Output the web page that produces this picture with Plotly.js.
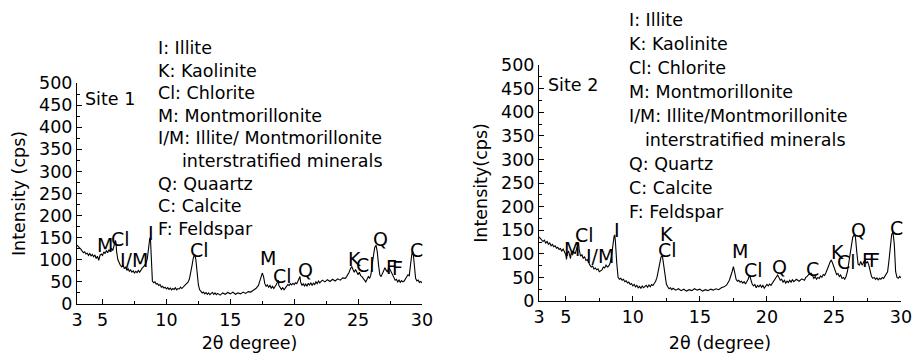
<!DOCTYPE html>
<html>
<head>
<meta charset="utf-8">
<script src="https://cdn.plot.ly/plotly-3.0.1.min.js"></script>
<style>html,body{margin:0;padding:0;background:#fff;}#chart{width:914px;height:353px;}</style>
</head>
<body>
<div id="chart"></div>
<script>
// ---------- data ----------
var site1Angle = [3.0,3.1,3.2,3.3,3.4,3.5,3.6,3.7,3.8,3.9,4.0,4.1,4.2,4.3,4.4,4.5,4.6,4.7,4.8,4.9,5.0,5.1,5.2,5.3,5.4,5.5,5.6,5.7,5.8,5.9,6.0,6.05,6.1,6.2,6.3,6.4,6.5,6.6,6.7,6.8,6.9,7.0,7.1,7.2,7.3,7.4,7.5,7.6,7.7,7.8,7.9,8.0,8.1,8.2,8.3,8.4,8.5,8.6,8.7,8.75,8.8,8.85,8.9,9.0,9.1,9.2,9.3,9.4,9.5,9.6,9.7,9.8,9.9,10.0,10.1,10.2,10.3,10.4,10.5,10.6,10.7,10.8,10.9,11.0,11.1,11.2,11.3,11.4,11.5,11.6,11.7,11.8,11.9,12.0,12.1,12.2,12.3,12.4,12.5,12.6,12.7,12.8,12.9,13.0,13.1,13.2,13.3,13.4,13.5,13.6,13.7,13.8,13.9,14.0,14.2,14.4,14.6,14.8,15.0,15.2,15.4,15.6,15.8,16.0,16.2,16.4,16.6,16.8,17.0,17.2,17.4,17.5,17.6,17.7,17.8,17.9,18.0,18.1,18.2,18.3,18.4,18.5,18.6,18.7,18.75,18.8,18.9,19.0,19.1,19.2,19.3,19.4,19.5,19.6,19.7,19.8,19.9,20.0,20.1,20.2,20.3,20.4,20.45,20.5,20.6,20.7,20.8,20.9,21.0,21.1,21.2,21.3,21.4,21.5,21.6,21.7,21.8,21.9,22.0,22.2,22.4,22.6,22.8,23.0,23.2,23.4,23.6,23.8,24.0,24.1,24.2,24.3,24.4,24.5,24.6,24.7,24.8,24.9,25.0,25.1,25.2,25.3,25.4,25.5,25.6,25.7,25.8,25.9,26.0,26.1,26.2,26.3,26.4,26.5,26.6,26.7,26.8,26.9,27.0,27.1,27.2,27.3,27.4,27.5,27.6,27.7,27.8,27.9,28.0,28.1,28.2,28.3,28.4,28.5,28.6,28.7,28.8,28.9,29.0,29.1,29.2,29.3,29.4,29.5,29.6,29.7,29.8,29.9,30.0];
var site1Intensity = [133,131,127,124,119,116,118,113,115,110,114,109,112,107,111,103,108,99,110,113,110,118,114,121,116,123,119,126,121,134,144,140,118,100,92,87,84,89,80,84,76,80,74,77,72,75,70,74,71,76,72,78,81,84,87,92,102,126,150,147,108,70,52,48,50,45,46,42,44,38,40,36,38,34,37,33,36,32,35,33,37,32,35,34,38,35,38,40,42,46,50,57,69,87,104,113,101,70,43,32,28,25,27,23,26,22,25,21,24,26,22,25,21,24,20,25,22,26,23,27,22,25,23,27,24,28,27,31,35,42,58,70,62,46,40,43,38,42,36,40,35,39,44,50,54,42,36,33,37,32,36,40,44,42,46,43,47,44,48,46,52,60,62,50,42,46,41,45,40,47,43,48,42,47,44,50,46,52,48,54,50,55,51,56,52,57,54,59,58,62,66,72,80,85,78,72,78,70,66,72,64,62,58,54,50,56,62,58,66,90,112,128,133,118,88,66,62,70,74,82,76,72,84,78,70,64,58,54,56,50,54,49,53,50,52,56,60,66,64,92,112,118,90,58,52,54,49,51,48];

var site2Angle = [3.0,3.1,3.2,3.3,3.4,3.5,3.6,3.7,3.8,3.9,4.0,4.1,4.2,4.3,4.4,4.5,4.6,4.7,4.8,4.9,5.0,5.05,5.1,5.2,5.3,5.35,5.4,5.5,5.6,5.7,5.8,5.9,5.95,6.0,6.1,6.2,6.3,6.4,6.5,6.6,6.7,6.8,6.9,7.0,7.1,7.2,7.3,7.4,7.5,7.6,7.7,7.8,7.9,8.0,8.1,8.2,8.3,8.4,8.5,8.6,8.65,8.7,8.8,8.9,9.0,9.1,9.2,9.3,9.4,9.5,9.6,9.7,9.8,9.9,10.0,10.1,10.2,10.3,10.4,10.5,10.6,10.7,10.8,10.9,11.0,11.1,11.2,11.3,11.4,11.5,11.6,11.7,11.8,11.9,12.0,12.1,12.2,12.3,12.4,12.5,12.6,12.7,12.8,12.9,13.0,13.2,13.4,13.6,13.8,14.0,14.2,14.4,14.6,14.8,15.0,15.2,15.4,15.6,15.8,16.0,16.2,16.4,16.6,16.8,17.0,17.2,17.4,17.5,17.6,17.7,17.8,17.9,18.0,18.1,18.2,18.3,18.4,18.5,18.6,18.7,18.8,18.9,19.0,19.1,19.2,19.3,19.4,19.5,19.6,19.7,19.8,19.9,20.0,20.1,20.2,20.3,20.4,20.5,20.6,20.7,20.8,20.9,21.0,21.1,21.2,21.3,21.4,21.5,21.6,21.7,21.8,21.9,22.0,22.2,22.4,22.6,22.8,22.9,23.0,23.1,23.2,23.3,23.4,23.5,23.6,23.7,23.8,23.9,24.0,24.1,24.2,24.3,24.4,24.5,24.6,24.7,24.8,24.9,25.0,25.1,25.2,25.3,25.4,25.5,25.6,25.7,25.8,25.9,26.0,26.1,26.2,26.3,26.4,26.5,26.6,26.7,26.8,26.9,27.0,27.1,27.2,27.3,27.4,27.5,27.6,27.7,27.8,27.9,28.0,28.1,28.2,28.3,28.4,28.5,28.6,28.7,28.8,28.9,29.0,29.1,29.2,29.3,29.4,29.5,29.6,29.7,29.8,29.9,30.0];
var site2Intensity = [136,132,130,126,129,123,126,120,123,117,120,115,117,112,114,109,111,106,110,104,98,88,100,106,96,90,102,98,104,100,110,121,124,108,95,98,90,94,86,88,80,76,72,74,68,70,66,68,62,64,66,72,70,76,72,74,80,94,118,137,140,126,80,50,46,48,44,46,41,43,38,40,35,37,32,35,30,33,28,31,27,32,28,31,33,29,34,30,35,33,37,42,50,64,82,93,96,78,52,36,30,26,28,24,27,23,26,22,25,21,24,22,26,23,25,21,24,22,25,23,26,24,28,30,34,44,62,73,60,46,42,44,40,42,38,41,36,40,46,55,44,36,32,35,28,33,30,34,29,33,27,31,35,32,36,33,38,42,48,52,55,50,44,46,40,44,38,42,39,44,40,45,41,46,42,47,44,50,52,56,58,59,54,48,52,46,50,48,53,50,56,54,60,66,74,82,87,80,72,62,56,58,52,55,48,50,46,52,62,80,98,120,135,140,136,104,78,76,84,76,82,87,80,84,76,62,52,48,50,46,49,45,48,46,50,48,52,56,62,85,115,140,147,120,62,50,48,52,49];

var site1PeakText = ["M","Cl","I/M","I","Cl","M","Cl","Q","K","Cl","Q","F","F","C"];
var site1PeakX    = [5.19,6.44,7.46,8.83,12.55,17.98,19.12,20.88,24.75,25.54,26.75,27.65,28.08,29.6];
var site1PeakY    = [133,146,100,161,122,105,64,77,101,88,148,83,82,122];

var site2PeakText = ["M","Cl","I/M","I","K","Cl","M","Cl","Q","C","K","Cl","Q","F","F","C"];
var site2PeakX    = [5.43,6.40,7.55,8.85,12.50,12.62,17.99,19.03,20.97,23.40,25.26,25.90,26.83,27.53,28.06,29.66];
var site2PeakY    = [110,140,96,151,143,109,107,65,71,67,103,82,150,87,87,155];

var site1KeyLines = ["I: Illite","K: Kaolinite","Cl: Chlorite","M: Montmorillonite","I/M: Illite/ Montmorillonite","interstratified minerals","Q: Quaartz","C: Calcite","F: Feldspar"];
var site2KeyLines = ["I: Illite","K: Kaolinite","Cl: Chlorite","M: Montmorillonite","I/M: Illite/Montmorillonite","interstratified minerals","Q: Quartz","C: Calcite","F: Feldspar"];

var xTickVals = [3,5,10,15,20,25,30];
var xTickText = ["3","5","10","15","20","25","30"];
var xMinorVals = [7.5,12.5,17.5,22.5,27.5];

// ---------- layout helpers ----------
var W = 914, H = 353;
function fx(px){ return px / W; }
function fy(py){ return 1 - py / H; }
var FONT = "DejaVu Sans, Arial, sans-serif";

var traces = [
  {x: site1Angle, y: site1Intensity, type: "scatter", mode: "lines", xaxis: "x", yaxis: "y",
   line: {color: "#000", width: 1.1}, hoverinfo: "skip"},
  {x: site2Angle, y: site2Intensity, type: "scatter", mode: "lines", xaxis: "x2", yaxis: "y2",
   line: {color: "#000", width: 1.1}, hoverinfo: "skip"}
];

function xAxis(dom, anchor, title, standoff){
  return {
    domain: dom, anchor: anchor, range: [3, 30], fixedrange: true,
    tickmode: "array", tickvals: xTickVals, ticktext: xTickText,
    ticks: "inside", ticklen: 5, tickwidth: 1, tickcolor: "#000",
    minor: {tickmode: "array", tickvals: xMinorVals, ticks: "inside", ticklen: 3, tickwidth: 1, tickcolor: "#000"},
    showline: true, linecolor: "#000", linewidth: 1, showgrid: false, zeroline: false,
    tickfont: {family: FONT, size: 17.5, color: "#000"},
    title: {text: title, font: {family: FONT, size: 17.5, color: "#000"}, standoff: standoff}
  };
}
function yAxis(dom, anchor, title, standoff){
  return {
    domain: dom, anchor: anchor, range: [0, 500], fixedrange: true,
    tickmode: "linear", tick0: 0, dtick: 50,
    ticks: "inside", ticklen: 5, tickwidth: 1, tickcolor: "#000",
    minor: {tickmode: "linear", tick0: 0, dtick: 25, ticks: "inside", ticklen: 3, tickwidth: 1, tickcolor: "#000"},
    showline: true, linecolor: "#000", linewidth: 1, showgrid: false, zeroline: false,
    tickfont: {family: FONT, size: 17.5, color: "#000"},
    title: {text: title, font: {family: FONT, size: 17.5, color: "#000"}, standoff: standoff}
  };
}

var annotations = [];
function peakLabels(texts, xs, ys, xr, yr){
  for (var i = 0; i < texts.length; i++){
    annotations.push({text: texts[i], x: xs[i], y: ys[i], xref: xr, yref: yr,
      showarrow: false, xanchor: "center", yanchor: "middle",
      font: {family: FONT, size: 19, color: "#000"}});
  }
}
peakLabels(site1PeakText, site1PeakX, site1PeakY, "x", "y");
peakLabels(site2PeakText, site2PeakX, site2PeakY, "x2", "y2");

function keyBlock(lines, leftPx, indentPx, topPx, stepPx){
  for (var i = 0; i < lines.length; i++){
    var ind = (i === 5) ? indentPx : leftPx;
    annotations.push({text: lines[i], x: fx(ind), y: fy(topPx + i * stepPx), xref: "paper", yref: "paper",
      showarrow: false, xanchor: "left", yanchor: "middle",
      font: {family: FONT, size: 17.5, color: "#000"}});
  }
}
keyBlock(site1KeyLines, 156, 180, 48, 22.6);
keyBlock(site2KeyLines, 627, 643, 20, 24);

annotations.push({text: "Site 1", x: fx(110), y: fy(99), xref: "paper", yref: "paper", showarrow: false,
  xanchor: "center", yanchor: "middle", font: {family: FONT, size: 17.5, color: "#000"}});
annotations.push({text: "Site 2", x: fx(573), y: fy(85), xref: "paper", yref: "paper", showarrow: false,
  xanchor: "center", yanchor: "middle", font: {family: FONT, size: 17.5, color: "#000"}});

var layout = {
  width: W, height: H,
  margin: {l: 0, r: 0, t: 0, b: 0},
  paper_bgcolor: "#fff", plot_bgcolor: "#fff",
  showlegend: false,
  xaxis: xAxis([fx(77), fx(422)], "y", "2\u03b8 degree)", 18),
  yaxis: yAxis([fy(304), fy(83)], "x", "Intensity (cps)", 8),
  xaxis2: xAxis([fx(539), fx(901)], "y2", "2\u03b8 (degree)", 18),
  yaxis2: yAxis([fy(301), fy(65)], "x2", "Intensity(cps)", 8),
  annotations: annotations
};

Plotly.newPlot("chart", traces, layout, {staticPlot: true, displayModeBar: false});
</script>
</body>
</html>
